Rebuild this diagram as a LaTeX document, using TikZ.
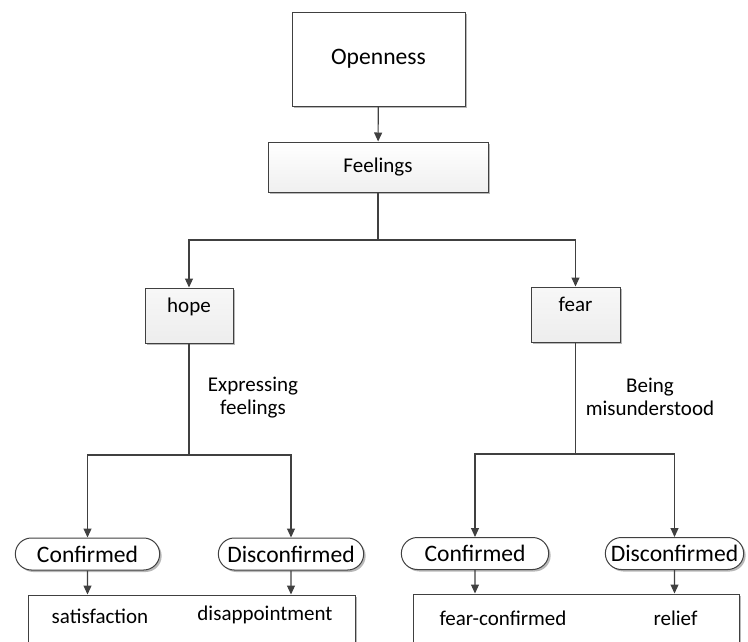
\documentclass[tikz,border=0pt]{standalone}
\usepackage{fontspec}
\setmainfont{Carlito}
\usepackage{tikz}
\usetikzlibrary{arrows.meta}
\usetikzlibrary{shapes.misc}
\usetikzlibrary{shadows}
\definecolor{linegray}{HTML}{404040}
\newcommand{\sizeL}{\fontsize{23.6}{28}\selectfont}
\newcommand{\sizeS}{\fontsize{21}{23}\selectfont}
\tikzset{
	boxshadow/.style={drop shadow={shadow xshift=2pt,shadow yshift=-2pt,fill=black!28,opacity=1}},
	elbow/.style={to path={-| (\tikztotarget)}}
}

\begin{document}
\begin{tikzpicture}[x=1pt,y=-1pt]
	\clip (0,0) rectangle (748,641);
	\begin{scope}[every node/.style={draw=linegray,line width=1pt,boxshadow,font=\sizeS}]
		\node[fill=white,minimum width=173pt,minimum height=94pt,font=\sizeL] (1) at (378.5,59) {Openness};
		\node[top color=white,bottom color=black!6,minimum width=220pt,minimum height=50pt] (2) at (378,167) {Feelings};
		\node[top color=black!3,bottom color=black!7,minimum width=88pt,minimum height=55pt,text height=15pt,text depth=22pt] (3) at (189,315.5) {hope};
		\node[top color=black!3,bottom color=black!7,minimum width=89pt,minimum height=55pt,text height=15pt,text depth=22pt] (4) at (575.5,314.5) {fear};
		\node[fill=white,rounded rectangle,minimum width=151pt,minimum height=32pt,font=\sizeL] (5) at (87.5,554) {Confirmed};
		\node[fill=white,rounded rectangle,minimum width=152pt,minimum height=32pt,font=\sizeL] (6) at (291,554) {Disconfirmed};
		\node[fill=white,rounded rectangle,minimum width=154pt,minimum height=32pt,font=\sizeL] (7) at (475,553.5) {Confirmed};
		\node[fill=white,rounded rectangle,minimum width=145pt,minimum height=32pt,font=\sizeL] (8) at (674.5,553.5) {Disconfirmed};
		\node[fill=white,minimum width=327pt,minimum height=60pt] (9) at (191.5,625) {};
		\node[fill=white,minimum width=326pt,minimum height=60pt] (10) at (576,624) {};
	\end{scope}

	\begin{scope}[every node/.style={font=\sizeS,inner sep=0pt}]
		\node[anchor=base] (11) at (100,623) {satisfaction};
		\node[anchor=base] (12) at (265,620) {disappointment};
		\node[anchor=base] (13) at (503,625) {fear-confirmed};
		\node[anchor=base] (14) at (675.5,625) {relief};
		\node[align=center] (15) at (253,398) {Expressing\\feelings};
		\node[align=center] (16) at (650,397) {Being\\misunderstood};
	\end{scope}

	\coordinate (17) at (378,240);
	\coordinate (18) at (189,455);
	\coordinate (19) at (575.5,454);

	\begin{scope}[>={Triangle[length=9pt,width=8pt]},
	              every edge/.style={draw=linegray,line width=1.1pt}]
		\path (1) edge[->] (2);
		\path (2) edge (17);
		\path (17) edge[->,elbow] (3);
		\path (17) edge[->,elbow] (4);
		\path (3) edge (18);
		\path (18) edge[->,elbow] (5);
		\path (18) edge[->,elbow] (6);
		\path (4) edge (19);
		\path (19) edge[->,elbow] (7);
		\path (19) edge[->,elbow] (8);
		\path (5) edge[->] (5 |- 9.north);
		\path (6) edge[->] (6 |- 9.north);
		\path (7) edge[->] (7 |- 10.north);
		\path (8) edge[->] (8 |- 10.north);
	\end{scope}
\end{tikzpicture}
\end{document}
